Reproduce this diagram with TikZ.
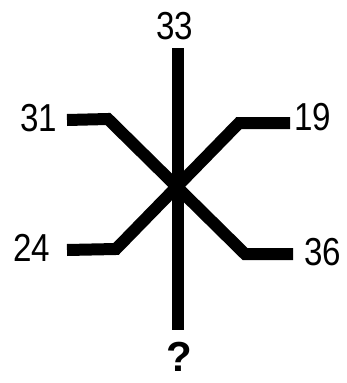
\documentclass[tikz,border=0pt]{standalone}
\usepackage{fontspec}
\setmainfont{Liberation Sans}
\usetikzlibrary{positioning}
\tikzset{
  bar/.style={line width=12pt},
  num/.style={font=\fontsize{39}{39}\selectfont, xscale=0.85, inner sep=0pt}
}

\begin{document}
\begin{tikzpicture}[x=1pt,y=-1pt]
        \useasboundingbox (0,0) rectangle (346,383);
        \coordinate (top) at (178,48);
        \coordinate (bot) at (178,330);
        \coordinate (e31) at (67,120);
        \coordinate (k31) at (108,119);
        \coordinate (k36) at (245,254);
        \coordinate (e36) at (293,254);
        \coordinate (e19) at (290,123);
        \coordinate (k19) at (239,123);
        \coordinate (k24) at (116,249);
        \coordinate (e24) at (67,250);
        \draw[bar] (top) -- (bot);
        \draw[bar] (e31) -- (k31) -- (k36) -- (e36);
        \draw[bar] (e19) -- (k19) -- (k24) -- (e24);
        \node[num] (n33) at (175,26) {33};
        \node[num] (n31) at (39,118) {31};
        \node[num] (n19) at (313,117) {19};
        \node[num] (n24) at (32,248) {24};
        \node[num] (n36) at (323,252) {36};
        \node[inner sep=0pt, font=\fontsize{42}{42}\selectfont\bfseries] (nq) at (179,357) {?};
      \end{tikzpicture}
\end{document}
